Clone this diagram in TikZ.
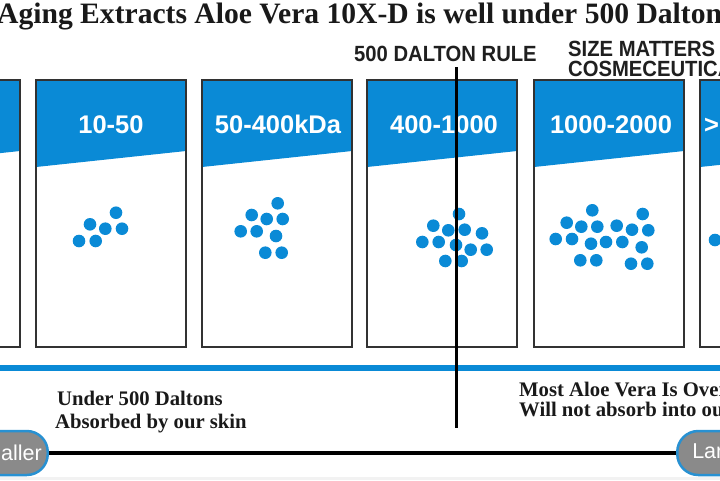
\documentclass[tikz,border=0pt]{standalone}
\usepackage{fontspec}
\setmainfont{Liberation Serif}
\newfontfamily\hsans{Liberation Sans}
\newfontfamily\hnarrow[FakeStretch=0.92]{Liberation Sans}
\definecolor{hblue}{RGB}{10,138,214}
\definecolor{frameC}{RGB}{50,50,50}
\definecolor{pillgray}{RGB}{138,138,138}
\definecolor{pillblue}{RGB}{40,145,210}
\tikzset{
  headtxt/.style={text=white, font=\hsans\bfseries\fontsize{25.5}{28}\selectfont, inner sep=0pt},
  toptxt/.style={text=black!88, font=\hnarrow\bfseries\fontsize{22}{24}\selectfont, inner sep=0pt},
  bodytxt/.style={text=black!90, font=\bfseries\fontsize{20.7}{23}\selectfont, inner sep=0pt},
  titletxt/.style={text=black!90, font=\bfseries\fontsize{29.6}{32}\selectfont, inner sep=0pt},
  pill/.style={fill=pillgray, draw=pillblue, line width=2.5pt, rounded corners=21pt,
    minimum height=44pt, inner ysep=0pt, text=white, font=\hsans\fontsize{21.5}{24}\selectfont},
  panelframe/.style={draw=frameC, line width=1.8pt},
  dot/.style={fill=hblue}
}
\begin{document}
\begin{tikzpicture}[x=1pt,y=-1pt]
\useasboundingbox (0,0) rectangle (720,480);
\clip (0,0) rectangle (720,480);
\fill[white] (0,0) rectangle (720,480);
\fill[black!5] (0,477) rectangle (720,480);

% title
\node[titletxt, anchor=base west] (title) at (-3,23) {\llap{Anti-}Aging Extracts Aloe Vera 10X-D is well under 500 Daltons};

% panels
\foreach \L [count=\i] in {-130,36,202,367,534,700} {
  \fill[hblue] (\L,80) -- (\L+150,80) -- (\L+150,151) -- (\L,167) -- cycle;
  \draw[panelframe] (\L,80) rectangle (\L+150,347);
}
\node[headtxt, anchor=base] (h2) at (111,133) {10-50};
\node[headtxt, anchor=base] (h3) at (278,133) {50-400kDa};
\node[headtxt, anchor=base] (h4) at (444,133) {400-1000};
\node[headtxt, anchor=base] (h5) at (611,133) {1000-2000};
\node[headtxt, anchor=base west] (h6) at (704,133) {>};

% molecules
\foreach \p in {(79,241),(95.7,241),(90,224.3),(105.3,228.7),(116,212.7),(122,228.7)}
  \fill[dot] \p circle (6.3);
\foreach \p in {(277.7,203.3),(251.7,215),(266.7,219),(282.7,219),(240.7,231.3),(256.7,231.3),(276,236),(265.3,252.7),(281.7,252.7)}
  \fill[dot] \p circle (6.3);
\foreach \p in {(459,214),(433.3,225.7),(448.3,230.3),(464.7,229.7),(482,233.3),(422.3,242),(438.7,242),(456,245),(470.7,249.7),(486.7,249.7),(445.3,261),(461.7,261)}
  \fill[dot] \p circle (6.3);
\foreach \p in {(592.3,210.3),(642.7,214),(566.7,222.7),(581.3,226.7),(597.3,226.7),(616.7,225.7),(632,229.7),(648.3,230.3),(555.7,239),(572,239),(591,243.7),(606,242),(622.3,242),(641.7,247.3),(580.3,260.3),(596.3,260.3),(631,263.7),(647.3,263.7)}
  \fill[dot] \p circle (6.3);
\fill[dot] (715,240) circle (6.3);

% top labels
\node[toptxt, anchor=base west] (rule) at (354,61.5) {500 DALTON RULE};
\node[toptxt, anchor=base west] (size1) at (568,56) {SIZE MATTERS};
\node[toptxt, anchor=base west] (size2) at (568,76.5) {COSMECEUTICALS};

% blue divider
\coordinate (bl) at (0,367.5);
\coordinate (br) at (720,367.5);
\draw[hblue, line width=6pt] (bl) -- (br);

% 500 dalton rule line
\coordinate (ruletop) at (456.5,67);
\coordinate (rulebot) at (456.5,428);
\draw[black, line width=2.3pt] (ruletop) -- (rulebot);

% bottom texts
\node[bodytxt, anchor=base west] (u1) at (57,405) {Under 500 Daltons};
\node[bodytxt, anchor=base west] (u2) at (55,428.5) {Absorbed by our skin};
\node[bodytxt, anchor=base west] (o1) at (519,396.5) {Most Aloe Vera Is Over 500 Daltons};
\node[bodytxt, anchor=base west] (o2) at (519,416) {Will not absorb into our skin};

% scale
\node[pill, inner xsep=6pt, anchor=east] (smaller) at (49,453) {Smaller};
\node[pill, inner xsep=15pt, anchor=west] (larger) at (676,453) {Larger};
\draw[black, line width=4.5pt] (smaller.east) -- (larger.west);
\end{tikzpicture}
\end{document}
